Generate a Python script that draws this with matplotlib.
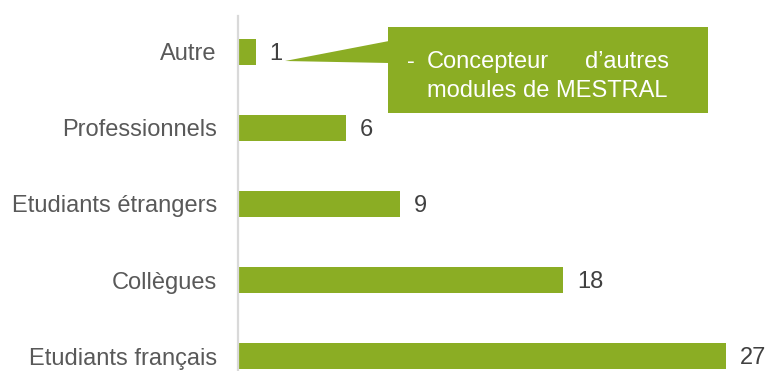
import matplotlib
matplotlib.use("Agg")
import matplotlib.pyplot as plt
from matplotlib.patches import Polygon

plt.rcParams['font.family'] = ['Liberation Sans', 'DejaVu Sans']

categories = ["Autre", "Professionnels", "Etudiants étrangers", "Collègues", "Etudiants français"]
values = [1, 6, 9, 18, 27]
note_lines = ["-", "Concepteur", "d’autres", "modules de MESTRAL"]

GREEN = "#8BAD24"
W, H = 768, 371
DPI = 100

fig = plt.figure(figsize=(W / DPI, H / DPI), dpi=DPI)

# axes placed in pixel terms: x=0 at 237.7 px, 18.07 px per unit;
# rows 76 px apart, first row centred at 52 px from the top
x0_px = 237.7
px_per_unit = 18.07
top_px, row_px = 14, 76
ax_h_px = row_px * 5
ax = fig.add_axes([x0_px / W, (H - top_px - ax_h_px) / H,
                   (W - x0_px) / W, ax_h_px / H])

ypos = list(range(len(categories)))
ax.barh(ypos, values, height=0.355, color=GREEN, zorder=2)
ax.set_xlim(0, (W - x0_px) / px_per_unit)
ax.set_ylim(len(categories) - 0.5, -0.5)

ax.set_yticks(ypos)
ax.set_yticklabels(categories, fontsize=17, color="#595959")
ax.tick_params(axis="y", length=0, pad=15)
ax.set_xticks([])
for s in ["top", "right", "bottom"]:
    ax.spines[s].set_visible(False)
ax.spines["left"].set_color("#D9D9D9")
ax.spines["left"].set_linewidth(1.6)
ax.spines["left"].set_bounds(-0.48, len(categories) - 0.5)

for y, v in zip(ypos, values):
    ax.annotate(str(v), xy=(v, y), xytext=(10, 0), textcoords="offset points",
                ha="left", va="center_baseline", fontsize=17, color="#404040")

# callout box with its pointer, drawn in figure pixels
def fp(x, y):
    return (x / W, (H - y) / H)

box = Polygon([fp(388, 27), fp(708, 27), fp(708, 113), fp(388, 113)],
              closed=True, transform=fig.transFigure, facecolor=GREEN,
              edgecolor="none", zorder=5)
wedge = Polygon([fp(285, 61), fp(389, 41), fp(389, 63)], closed=True,
                transform=fig.transFigure, facecolor=GREEN, edgecolor="none",
                zorder=5)
fig.patches.extend([box, wedge])

fig.text(*fp(407, 68), note_lines[0], fontsize=17, color="white",
         ha="left", va="baseline", zorder=6)
fig.text(*fp(427, 68), note_lines[1], fontsize=17, color="white",
         ha="left", va="baseline", zorder=6)
fig.text(*fp(669, 68), note_lines[2], fontsize=17, color="white",
         ha="right", va="baseline", zorder=6)
fig.text(*fp(427, 97), note_lines[3], fontsize=17, color="white",
         ha="left", va="baseline", zorder=6)

fig.savefig("out.png", dpi=DPI, facecolor="white")
